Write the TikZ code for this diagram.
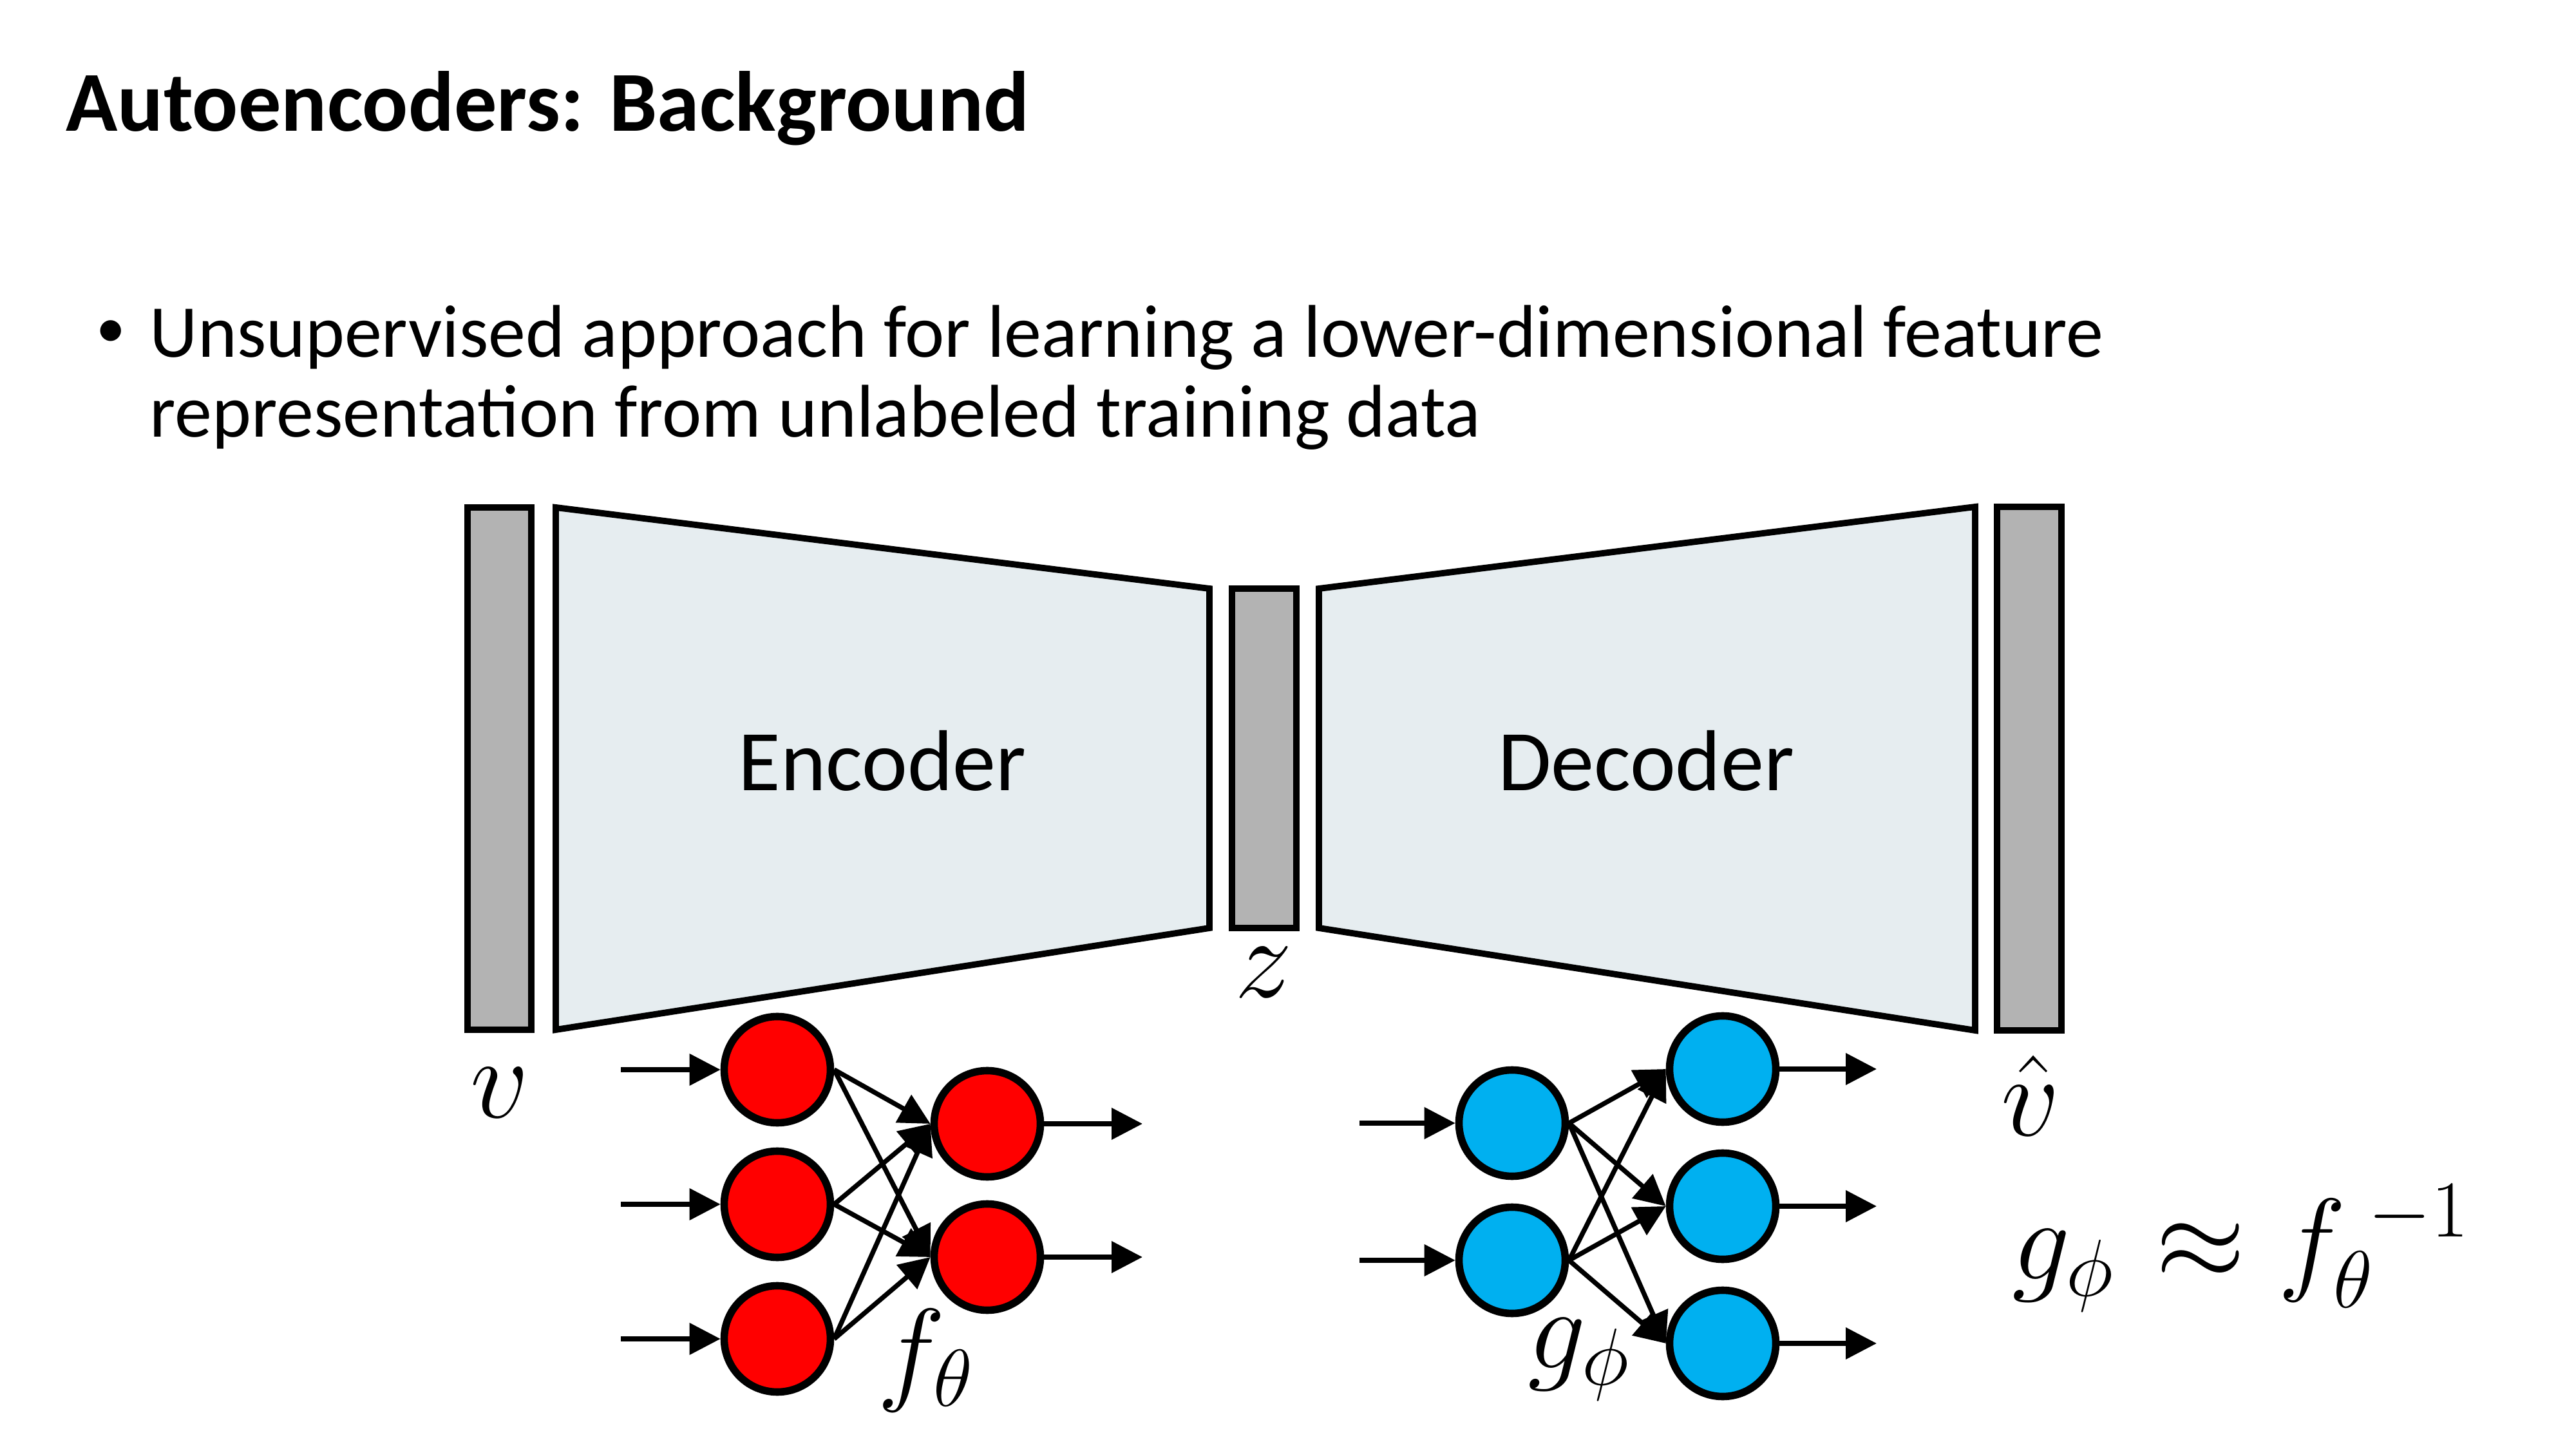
\RequirePackage{fix-cm}
\documentclass[tikz,border=0pt]{standalone}
\usepackage{fontspec}
\setmainfont{Carlito}
\usetikzlibrary{arrows.meta}
\definecolor{bargray}{RGB}{179,179,179}
\definecolor{coderfill}{RGB}{230,237,240}
\definecolor{neured}{RGB}{255,0,0}
\definecolor{neublue}{RGB}{0,176,240}
\tikzset{
  bar/.style={draw,line width=2.8pt,fill=bargray},
  coder/.style={draw,line width=2.8pt,fill=coderfill},
  neuron/.style={circle,draw,line width=3.3pt,minimum size=1.65cm,inner sep=0pt},
  conn/.style={line width=2.1pt,-{Triangle[length=0.48cm,width=0.48cm]}},
  mathlbl/.style={font=\fontsize{51}{60}\selectfont,inner sep=0pt}
}
\begin{document}
\begin{tikzpicture}
  \useasboundingbox (0,0) rectangle (40,-22.5);
  % header
  \node[anchor=base west,inner sep=0pt,font=\fontsize{37.7}{45}\selectfont\bfseries] (title) at (1.02,-2.04) {Autoencoders: Background};
  \node[anchor=base,inner sep=0pt,font=\fontsize{26}{30}\selectfont] (dot) at (1.72,-5.40) {•};
  \node[anchor=base west,inner sep=0pt,font=\fontsize{33}{40}\selectfont] (line1) at (2.32,-5.55) {Unsupervised approach for learning a lower-dimensional feature};
  \node[anchor=base west,inner sep=0pt,font=\fontsize{33}{40}\selectfont] (line2) at (2.32,-6.79) {representation from unlabeled training data};
  % bars and coders
  \draw[bar] (7.26,-7.88) rectangle (8.25,-15.99);
  \draw[coder] (8.63,-7.88) -- (18.78,-9.14) -- (18.78,-14.41) -- (8.63,-15.99) -- cycle;
  \draw[bar] (19.13,-9.14) rectangle (20.13,-14.41);
  \draw[coder] (20.48,-9.14) -- (30.67,-7.87) -- (30.67,-16.00) -- (20.48,-14.41) -- cycle;
  \draw[bar] (31.01,-7.87) rectangle (32.01,-16.00);
  \node[font=\fontsize{38.2}{46}\selectfont] (enc) at (13.70,-11.81) {Encoder};
  \node[font=\fontsize{38.2}{46}\selectfont] (dec) at (25.56,-11.81) {Decoder};
  \node[mathlbl] (v) at (7.76,-16.97) {$v$};
  \node[mathlbl] (z) at (19.62,-15.10) {$z$};
  \node[mathlbl] (vhat) at (31.53,-17.01) {$\hat{v}$};
  % encoder net
  \foreach \i/\y in {1/-16.61,2/-18.70,3/-20.79} {
    \node[neuron,fill=neured] (ein\i) at (12.07,\y) {};
    \coordinate (esrc\i) at (9.64,\y);
    \draw[conn] (esrc\i) -- (ein\i.west);
  }
  \foreach \j/\y in {1/-17.45,2/-19.52} {
    \node[neuron,fill=neured] (eout\j) at (15.33,\y) {};
    \coordinate (edst\j) at (17.74,\y);
    \draw[conn] (eout\j.east) -- (edst\j);
  }
  \foreach \i in {1,2,3}
    \foreach \j in {1,2}
      \draw[conn] (ein\i.east) -- (eout\j.west);
  \node[mathlbl,anchor=base west] (f) at (13.62,-21.57) {$f_\theta$};
  % decoder net
  \foreach \i/\y in {1/-17.44,2/-19.57} {
    \node[neuron,fill=neublue] (din\i) at (23.48,\y) {};
    \coordinate (dsrc\i) at (21.11,\y);
    \draw[conn] (dsrc\i) -- (din\i.west);
  }
  \foreach \j/\y in {1/-16.60,2/-18.73,3/-20.86} {
    \node[neuron,fill=neublue] (dout\j) at (26.75,\y) {};
    \coordinate (ddst\j) at (29.14,\y);
    \draw[conn] (dout\j.east) -- (ddst\j);
  }
  \foreach \i in {1,2}
    \foreach \j in {1,2,3}
      \draw[conn] (din\i.east) -- (dout\j.west);
  \node[mathlbl,anchor=base west] (g) at (23.72,-21.24) {$g_\phi$};
  \node[mathlbl,anchor=base west] (inv) at (31.24,-19.86) {$g_\phi\mkern1.5mu \approx f_\theta^{\mkern5mu -1}$};
\end{tikzpicture}
\end{document}
